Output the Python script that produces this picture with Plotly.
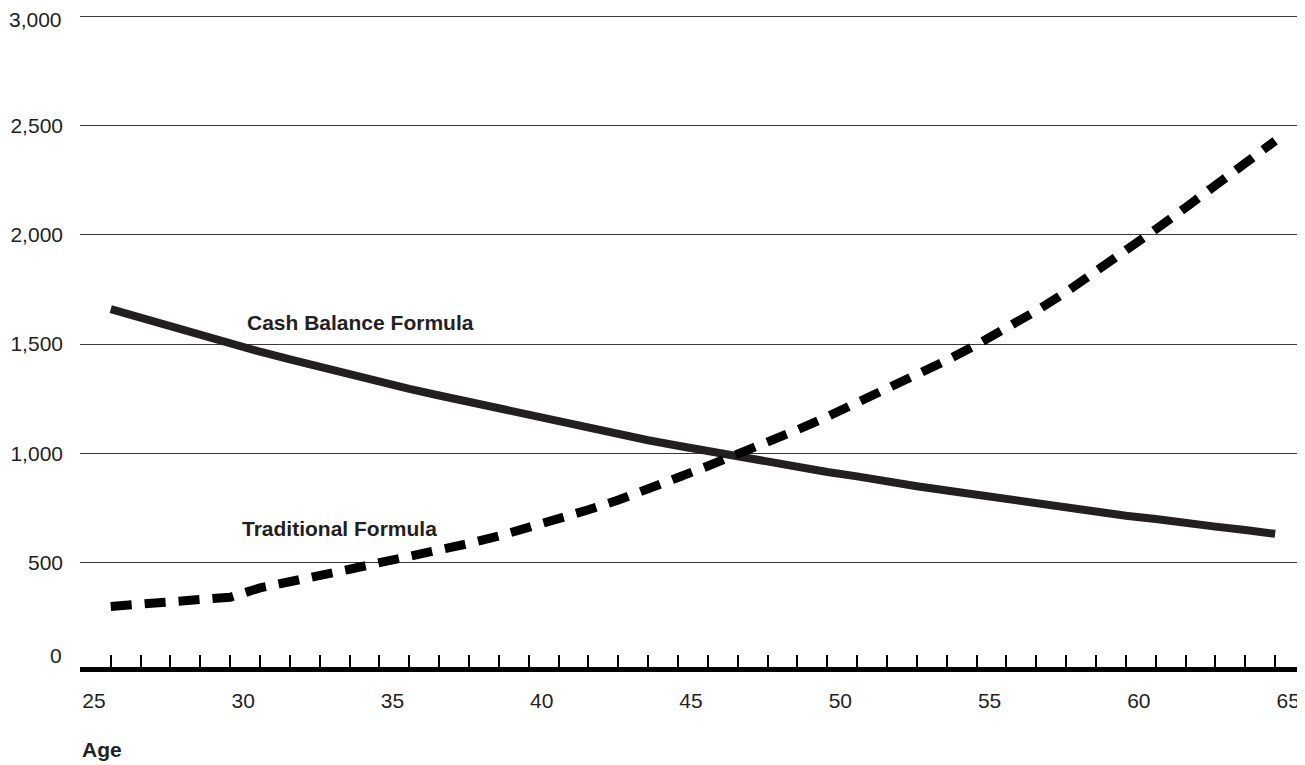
import plotly.graph_objects as go

ages = list(range(26, 66))
cash_balance = [1660, 1620, 1580, 1540, 1505, 1465, 1430, 1395, 1360, 1330,
                1295, 1265, 1235, 1205, 1175, 1145, 1115, 1090, 1060, 1035,
                1010, 985, 960, 940, 915, 895, 870, 850, 830, 810,
                790, 770, 750, 735, 715, 700, 680, 665, 650, 632]
traditional = [300, 312, 322, 332, 342, 385, 410, 440, 470, 500,
               527, 556, 588, 622, 660, 700, 742, 787, 835, 890,
               942, 995, 1050, 1108, 1168, 1230, 1293, 1358, 1426, 1497,
               1572, 1652, 1738, 1830, 1927, 2025, 2124, 2224, 2326, 2430]

x_tick_vals = list(range(25, 66))
x_tick_text = [str(a) if a % 5 == 0 else "" for a in x_tick_vals]
y_tick_vals = [500, 1000, 1500, 2000, 2500, 3000]
y_tick_text = ["500", "1,000", "1,500", "2,000", "2,500", ""]
top_label = "3,000"
zero_label = "0"

FONT = "Liberation Sans, Arial, Helvetica, sans-serif"
TXT = "#231f20"

fig = go.Figure()
fig.add_trace(go.Scatter(x=ages, y=cash_balance, mode="lines",
                         line=dict(color="#231f20", width=8),
                         name="Cash Balance Formula", hoverinfo="skip"))
fig.add_trace(go.Scatter(x=ages, y=traditional, mode="lines",
                         line=dict(color="#000000", width=9, dash="21px,13px"),
                         name="Traditional Formula", hoverinfo="skip"))

fig.add_shape(type="rect", xref="paper", x0=0, x1=1, yref="y",
              ysizemode="pixel", yanchor=0, y0=-5, y1=5,
              fillcolor="black", line=dict(width=0), layer="above")

fig.add_annotation(x=30.49, y=1600, xref="x", yref="y", text="<b>Cash Balance Formula</b>",
                   showarrow=False, xanchor="left", yanchor="middle",
                   font=dict(family=FONT, size=21, color=TXT))
fig.add_annotation(x=30.33, y=658, xref="x", yref="y", text="<b>Traditional Formula</b>",
                   showarrow=False, xanchor="left", yanchor="middle",
                   font=dict(family=FONT, size=21, color=TXT))
fig.add_annotation(x=0, y=-0.1185, xref="paper", yref="paper", text="<b>Age</b>",
                   showarrow=False, xanchor="left", yanchor="middle",
                   font=dict(family=FONT, size=21, color=TXT))
fig.add_annotation(x=0, y=0, xref="paper", yref="y", text=zero_label,
                   showarrow=False, xanchor="right", yanchor="middle",
                   xshift=-16, yshift=17,
                   font=dict(family=FONT, size=21, color=TXT))
fig.add_annotation(x=0, y=3000, xref="paper", yref="y", text=top_label,
                   showarrow=False, xanchor="right", yanchor="middle",
                   xshift=-16, yshift=-3,
                   font=dict(family=FONT, size=21, color=TXT))

fig.update_layout(
    width=1305, height=765,
    margin=dict(l=72, r=8, t=6, b=101, autoexpand=False),
    paper_bgcolor="white", plot_bgcolor="white",
    showlegend=False,
    font=dict(family=FONT, size=21, color=TXT),
    xaxis=dict(range=[24.97, 66.0], tickmode="array", tickvals=x_tick_vals,
               ticktext=x_tick_text, ticks="inside", ticklen=17, tickwidth=1.5,
               tickcolor="black", showgrid=False, zeroline=False, showline=False,
               ticklabelshift=13, ticklabelstandoff=14, automargin=False),
    yaxis=dict(range=[0, 3010], tickmode="array", tickvals=y_tick_vals,
               ticktext=y_tick_text, ticks="", showgrid=True,
               gridcolor="#3a3a3a", gridwidth=1.3, zeroline=False, showline=False,
               ticklabelstandoff=16, automargin=False),
)

fig.write_html("out.html")
